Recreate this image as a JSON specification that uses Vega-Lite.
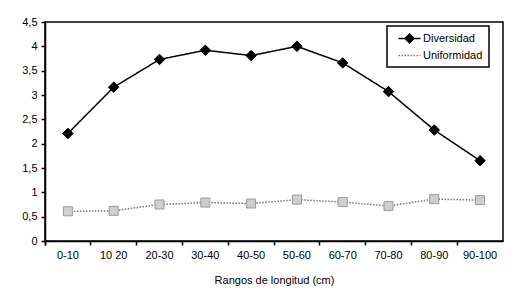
{
  "$schema": "https://vega.github.io/schema/vega-lite/v6.json",
  "width": 458,
  "height": 219,
  "autosize": "none",
  "padding": {"left": 45, "top": 22, "right": 13, "bottom": 59},
  "background": "white",
  "config": {
    "font": "Liberation Sans",
    "view": {"stroke": "black", "strokeWidth": 1.5},
    "axis": {"labelFont": "Liberation Sans", "labelFontSize": 11, "labelColor": "black", "titleFont": "Liberation Sans", "titleFontWeight": "normal", "titleColor": "black", "domainColor": "black", "tickColor": "black", "grid": false}
  },
  "data": {"values": [
    {"rango": "0-10", "serie": "Diversidad", "valor": 2.21},
    {"rango": "10 20", "serie": "Diversidad", "valor": 3.16},
    {"rango": "20-30", "serie": "Diversidad", "valor": 3.73},
    {"rango": "30-40", "serie": "Diversidad", "valor": 3.92},
    {"rango": "40-50", "serie": "Diversidad", "valor": 3.81},
    {"rango": "50-60", "serie": "Diversidad", "valor": 4.0},
    {"rango": "60-70", "serie": "Diversidad", "valor": 3.66},
    {"rango": "70-80", "serie": "Diversidad", "valor": 3.07},
    {"rango": "80-90", "serie": "Diversidad", "valor": 2.28},
    {"rango": "90-100", "serie": "Diversidad", "valor": 1.65},
    {"rango": "0-10", "serie": "Uniformidad", "valor": 0.61},
    {"rango": "10 20", "serie": "Uniformidad", "valor": 0.62},
    {"rango": "20-30", "serie": "Uniformidad", "valor": 0.75},
    {"rango": "30-40", "serie": "Uniformidad", "valor": 0.79},
    {"rango": "40-50", "serie": "Uniformidad", "valor": 0.77},
    {"rango": "50-60", "serie": "Uniformidad", "valor": 0.85},
    {"rango": "60-70", "serie": "Uniformidad", "valor": 0.8},
    {"rango": "70-80", "serie": "Uniformidad", "valor": 0.72},
    {"rango": "80-90", "serie": "Uniformidad", "valor": 0.86},
    {"rango": "90-100", "serie": "Uniformidad", "valor": 0.84}
  ]},
  "encoding": {
    "x": {
      "field": "rango", "type": "ordinal", "sort": null, "bandPosition": 0.5,
      "scale": {"type": "band", "paddingInner": 0, "paddingOuter": 0},
      "axis": {"title": "Rangos de longitud (cm)", "labelAngle": 0, "bandPosition": 0, "tickExtra": true, "tickSize": 4, "labelPadding": 4, "titlePadding": 14, "titleFontSize": 11, "domainWidth": 1.5, "tickWidth": 1.5}
    },
    "y": {
      "field": "valor", "type": "quantitative",
      "scale": {"domain": [0, 4.5], "nice": false, "zero": true},
      "axis": {"title": null, "values": [0, 0.5, 1, 1.5, 2, 2.5, 3, 3.5, 4, 4.5], "labelExpr": "replace(format(datum.value, '~g'), '.', ',')", "tickSize": 4, "labelPadding": 4, "domainWidth": 1.5, "tickWidth": 1.5}
    }
  },
  "layer": [
    {
      "mark": {"type": "line", "strokeWidth": 1.5},
      "encoding": {
        "color": {
          "field": "serie", "type": "nominal",
          "scale": {"domain": ["Diversidad", "Uniformidad"], "range": ["black", "#777777"]},
          "legend": {
            "orient": "none", "legendX": 342, "legendY": 4, "title": null,
            "strokeColor": "black", "fillColor": "white",
            "padding": 6, "symbolSize": 121, "symbolStrokeWidth": 1.5, "symbolOffset": 10,
            "labelFont": "Liberation Sans", "labelFontSize": 11, "labelColor": "black", "rowPadding": 3, "labelOffset": 7,
            "encode": {
              "legend": {"update": {"strokeWidth": {"value": 1.5}}},
              "symbols": {"update": {
                "shape": {"signal": "datum.value === 'Diversidad' ? 'M-2,0L2,0M0,-0.8L0.8,0L0,0.8L-0.8,0Z' : 'M-2,0L2,0'"},
                "fill": {"signal": "datum.value === 'Diversidad' ? 'black' : 'transparent'"}
              }}
            }
          }
        },
        "strokeDash": {
          "field": "serie", "type": "nominal",
          "scale": {"domain": ["Diversidad", "Uniformidad"], "range": [[1, 0], [1.5, 1.5]]}
        }
      }
    },
    {
      "transform": [{"filter": "datum.serie === 'Diversidad'"}],
      "mark": {"type": "point", "shape": "diamond", "size": 110, "filled": true, "opacity": 1, "fill": "black", "stroke": "black", "strokeWidth": 1}
    },
    {
      "transform": [{"filter": "datum.serie === 'Uniformidad'"}],
      "mark": {"type": "point", "shape": "square", "size": 81, "filled": true, "opacity": 1, "fill": "#cfcfcf", "stroke": "#999999", "strokeWidth": 1}
    }
  ]
}
